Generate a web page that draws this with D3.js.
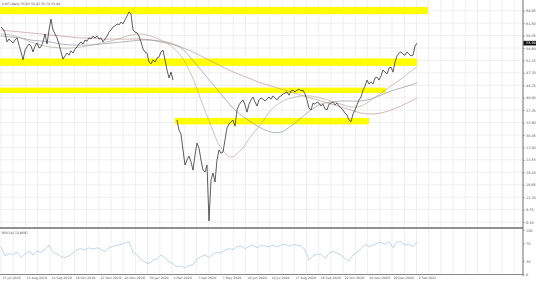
<!DOCTYPE html>
<html>
<head>
<meta charset="utf-8">
<script src="https://cdn.jsdelivr.net/npm/d3@7"></script>
<style>
  body { margin: 0; background: #fff; }
  text { font-family: Tahoma, "DejaVu Sans", sans-serif; }
</style>
</head>
<body>
<div id="chart"></div>
<script>
// daily closes, one value every 2 bars (null = weekend gap of 9 Mar 2020)
const closes = [
  60.4, 59.9, 58.8, 56.3, 57.1, 56.5, 56.0, 56.8, 57.4, 55.4,
  53.5, 51.3, 54.0, 54.9, 55.7, 55.1, 53.5, 55.1, 56.0, 54.6,
  54.9, 56.3, 58.5, 55.7, 59.6, 62.6, 59.6, 58.5, 57.4, 55.7,
  53.5, 51.5, 52.4, 53.2, 52.6, 53.8, 53.2, 54.3, 54.9, 55.7,
  56.3, 55.7, 56.8, 56.5, 57.4, 57.1, 57.9, 57.4, 57.9, 57.1,
  57.4, 56.3, 57.1, 57.9, 59.0, 59.6, 60.4, 60.7, 61.3, 61.0,
  61.8, 61.3, 62.4, 63.5, 64.6, 64.0, 59.6, 59.0, 58.8, 57.9,
  56.3, 54.3, 53.5, 53.2, 50.7, 50.2, 51.3, 50.7, 51.8, 52.1,
  53.5, 54.0, 51.3, 48.5, 46.3, 47.9, 45.7, null, 34.6, 31.8,
  30.7, 26.3, 22.1, 23.5, 24.6, 23.0, 20.7, 24.9, 28.2, 26.8,
  23.5, 20.7, 20.2, 22.1, 6.6, 18.0, 19.9, 17.4, 23.5, 26.3,
  25.4, 25.7, 29.1, 32.4, 33.5, 34.1, 34.6, 32.9, 37.4, 38.8,
  39.6, 40.2, 38.8, 36.8, 39.0, 40.2, 41.0, 39.6, 38.5, 40.2,
  40.7, 40.4, 39.9, 40.4, 41.0, 40.4, 41.3, 40.7, 40.2, 41.0,
  41.3, 41.8, 42.1, 42.4, 41.5, 42.7, 42.9, 42.4, 42.9, 43.2,
  42.7, 42.9, 41.8, 40.2, 37.9, 37.4, 39.3, 39.0, 39.6, 39.3,
  38.5, 39.0, 37.7, 37.4, 39.0, 39.3, 39.6, 38.8, 39.3, 38.5,
  37.9, 37.4, 36.5, 36.0, 34.6, 34.1, 36.3, 37.4, 38.8, 40.2,
  41.0, 42.9, 44.0, 45.7, 44.6, 45.2, 44.6, 46.3, 46.5, 45.7,
  46.8, 48.5, 47.9, 47.4, 49.0, 49.3, 47.9, 50.7, 52.4, 53.2,
  53.5, 52.9, 52.6, 53.5, 52.9, 52.4, 52.6, 55.1, 55.94
];

// moving averages, one value every 10 bars (last one at bar 416)
const maBars = [0,10,20,30,40,50,60,70,80,90,100,110,120,130,140,150,160,170,180,190,200,
  210,220,230,240,250,260,270,280,290,300,310,320,330,340,350,360,370,380,390,400,410,416];
const ma50 = [58.47,58.2,57.36,56.25,55.42,54.86,54.59,54.59,54.86,55.42,55.97,56.53,57.36,58.2,
  58.47,57.92,56.8,55.14,52.37,47.37,40.15,32.94,26.83,24.34,26.28,30.17,33.49,37.38,39.6,40.71,
  41.27,41.27,40.71,39.88,39.04,38.21,38.49,40.15,42.1,44.04,45.98,48.2,49.31];
const ma100 = [57.92,57.64,57.36,56.8,56.53,56.25,55.7,55.42,55.42,55.42,55.7,55.97,56.25,56.53,
  56.8,56.8,56.25,55.7,54.59,51.81,48.48,45.15,41.82,38.49,35.99,34.05,32.38,31.27,31.27,32.94,
  35.16,37.38,39.04,39.6,39.88,39.88,39.88,40.43,41.54,42.65,43.49,44.32,44.87];
const ma200 = [59.58,59.3,59.03,58.75,58.47,58.2,57.92,57.64,57.36,57.36,57.08,57.08,57.08,57.08,
  57.08,56.8,56.53,55.97,54.86,53.75,52.37,50.98,49.59,48.2,47.09,45.98,44.87,44.04,43.21,42.38,
  41.54,40.71,39.88,39.04,38.21,37.38,36.55,36.27,36.55,37.38,38.49,39.88,40.71];

// RSI(14), one value every 4 bars
const rsi = [62,42,47,45,50,38,46,52,44,52,50,56,66,50,46,40,38,42,48,56,
  58,55,60,57,60,56,52,60,63,66,67,71,74,50,44,34,28,24,32,35,
  44,38,28,24,17,19,15,20,22,35,40,44,38,46,50,48,55,58,56,62,
  64,58,63,66,60,65,64,62,66,62,66,68,64,67,66,65,55,32,42,46,
  45,36,48,52,48,44,36,30,44,50,58,68,62,66,70,72,68,74,60,73,
  74,66,68,62,73];

// yellow zones (bars and prices)
const zoneFrom = [0, 0, 0, 175];
const zoneTo = [427, 416, 385, 368];
const zoneLow = [64.0, 49.65, 42.1, 33.4];
const zoneHigh = [66.0, 51.7, 43.6, 35.2];

const yTicks = [6.30,9.75,13.20,16.65,20.10,23.55,27.00,30.45,33.90,37.35,40.80,44.25,47.70,51.15,54.60,58.05,61.50,64.95];
const rsiTicks = [0, 30, 70, 100];
const dateBars = [0,24,49,73,98,122,147,171,196,220,245,269,293,318,342,367,391,416];
const dateLabels = ["15 Jul 2019","13 Aug 2019","16 Sep 2019","18 Oct 2019","21 Nov 2019","26 Dec 2019",
  "30 Jan 2020","4 Mar 2020","3 Apr 2020","7 May 2020","10 Jun 2020","14 Jul 2020","17 Aug 2020",
  "18 Sep 2020","22 Oct 2020","24 Nov 2020","29 Dec 2020","2 Feb 2021"];
const lastPrice = 55.94;

const width = 536, height = 288;
const axisX = 523, mainBottom = 228, rsiTop = 229.5, rsiBottom = 274.5;

const svg = d3.select("#chart").append("svg")
  .attr("width", width).attr("height", height);

svg.append("rect").attr("width", width).attr("height", height).attr("fill", "#fff");

const x = d3.scaleLinear().domain([0, 522]).range([1, axisX]);
const y = d3.scaleLinear().domain([6.3, 64.95]).range([222, 10.7]);
const yR = d3.scaleLinear().domain([0, 100]).range([rsiBottom, 230]);

svg.append("clipPath").attr("id", "mainclip")
  .append("rect").attr("x", 0).attr("y", 0).attr("width", axisX).attr("height", mainBottom);

// grid
const gridBars = d3.range(0, 522, 12.22);
const grid = svg.append("g").attr("stroke", "#ebebeb").attr("stroke-width", 0.8);
grid.selectAll(".gv").data(gridBars).join("line")
  .attr("x1", d => x(d)).attr("x2", d => x(d))
  .attr("y1", 0).attr("y2", mainBottom);
grid.selectAll(".gr").data(gridBars).join("line")
  .attr("x1", d => x(d)).attr("x2", d => x(d))
  .attr("y1", rsiTop).attr("y2", rsiBottom);
grid.selectAll(".gh").data(yTicks).join("line")
  .attr("x1", 0).attr("x2", axisX)
  .attr("y1", d => y(d)).attr("y2", d => y(d));

// zones
svg.append("g").selectAll("rect").data(zoneFrom).join("rect")
  .attr("x", (d, i) => x(d) - 1)
  .attr("width", (d, i) => x(zoneTo[i]) - x(d) + 1)
  .attr("y", (d, i) => y(zoneHigh[i]))
  .attr("height", (d, i) => y(zoneLow[i]) - y(zoneHigh[i]))
  .attr("fill", "#ffff00");

const plot = svg.append("g").attr("clip-path", "url(#mainclip)");

// moving averages
const maLine = d3.line().x((d, i) => x(maBars[i])).y(d => y(d)).curve(d3.curveCatmullRom);
[[ma200, "#c09a98"], [ma100, "#9096a0"], [ma50, "#b8ae9e"]].forEach(([s, c]) => {
  plot.append("path").attr("d", maLine(s))
    .attr("fill", "none").attr("stroke", c).attr("stroke-width", 0.7);
});

// price
const priceLine = d3.line().defined(d => d != null)
  .x((d, i) => x(i * 2)).y(d => y(d));
plot.append("path").attr("d", priceLine(closes))
  .attr("fill", "none").attr("stroke", "#333").attr("stroke-width", 0.8)
  .attr("stroke-linejoin", "miter");

// RSI
svg.append("path")
  .attr("d", d3.line().x((d, i) => x(i * 4)).y(d => yR(d))(rsi))
  .attr("fill", "none").attr("stroke", "#a6c6e3").attr("stroke-width", 0.7);

// frame lines
const frame = svg.append("g").attr("stroke", "#6b6b6b");
frame.append("line").attr("x1", axisX).attr("x2", axisX).attr("y1", 0).attr("y2", rsiBottom + 1);
frame.append("line").attr("x1", 0).attr("x2", axisX).attr("y1", mainBottom).attr("y2", mainBottom).attr("stroke-width", 1.5);
frame.append("line").attr("x1", 0).attr("x2", axisX).attr("y1", rsiBottom).attr("y2", rsiBottom).attr("stroke-width", 0.8);

// price axis
const yAxis = svg.append("g").attr("transform", `translate(${axisX},0)`)
  .call(d3.axisRight(y).tickValues(yTicks).tickFormat(d3.format(".2f")).tickSize(1.5).tickPadding(1.5));
yAxis.select(".domain").remove();
yAxis.selectAll("text").attr("font-size", "3.4px").attr("fill", "#555").style("font-family", "Tahoma, 'DejaVu Sans', sans-serif");
yAxis.selectAll("line").attr("stroke", "#888");

// rsi axis
const rAxis = svg.append("g").attr("transform", `translate(${axisX},0)`)
  .call(d3.axisRight(yR).tickValues(rsiTicks).tickFormat(d3.format("d")).tickSize(1.5).tickPadding(1.5));
rAxis.select(".domain").remove();
rAxis.selectAll("text").attr("font-size", "3.4px").attr("fill", "#555").style("font-family", "Tahoma, 'DejaVu Sans', sans-serif");
rAxis.selectAll("line").attr("stroke", "#888");

// date axis
const xAxis = svg.append("g").attr("transform", `translate(0,${rsiBottom})`)
  .call(d3.axisBottom(x).tickValues(dateBars).tickFormat((d, i) => dateLabels[i]).tickSize(0).tickPadding(2));
xAxis.select(".domain").remove();
xAxis.selectAll("text").attr("font-size", "3.2px").attr("fill", "#555")
  .attr("text-anchor", "start").attr("dx", 1)
  .style("font-family", "Tahoma, 'DejaVu Sans', sans-serif");

// last price box
svg.append("rect").attr("x", axisX + 0.5).attr("y", y(lastPrice) - 2.3)
  .attr("width", width - axisX).attr("height", 4.6).attr("fill", "#111");
svg.append("text").attr("x", axisX + 3).attr("y", y(lastPrice) + 1.2)
  .attr("font-size", "3.4px").attr("fill", "#fff").text(lastPrice.toFixed(2));

// titles
svg.append("text").attr("x", 2).attr("y", 4.5).attr("font-size", "3.2px").attr("fill", "#444")
  .text("\u25BE WTI,Daily  55.93 56.23 55.74 55.94");
svg.append("text").attr("x", 2).attr("y", 233.5).attr("font-size", "3.2px").attr("fill", "#444")
  .text("RSI(14) 72.8697");
</script>
</body>
</html>
